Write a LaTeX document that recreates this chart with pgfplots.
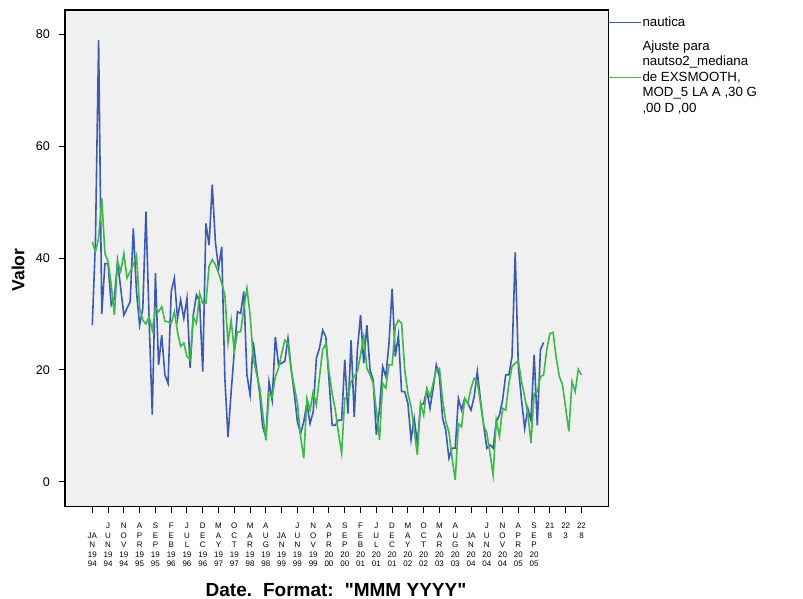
\documentclass[border=0pt]{standalone}
\usepackage{pgfplots}
\pgfplotsset{compat=1.18}
\usepackage{fontspec}
\setmainfont{Liberation Sans}
\newfontfamily\qf{Liberation Sans}
\definecolor{bgc}{HTML}{F0F0F0}
\definecolor{bl}{HTML}{3C5AB4}
\definecolor{gr}{HTML}{3DB94A}
\newcommand{\tl}[5]{\begin{tabular}{@{}c@{}}#1\\#2\\#3\\#4\\#5\end{tabular}}
\begin{document}
\begin{tikzpicture}
\useasboundingbox (0,0) rectangle (803bp,599bp);
\begin{axis}[
  at={(65bp,92.3bp)}, anchor=south west,
  scale only axis, width=543.3bp, height=496.7bp,
  xmin=-8.65, xmax=163.5, ymin=-4.47, ymax=84.35,
  axis background/.style={fill=bgc},
  axis line style={black, line width=1.3bp},
  tick align=outside, major tick length=6bp,
  tick style={black, line width=1bp},
  xtick pos=left, ytick pos=left,
  /pgf/number format/assume math mode=true,
  ytick={0,20,40,60,80},
  yticklabel style={font=\fontsize{12.6bp}{14bp}\selectfont, inner sep=0pt, xshift=-9bp},
  xtick={0,5,...,155},
  xticklabel style={font=\fontsize{8bp}{9.5bp}\selectfont, anchor=north, inner sep=0pt, yshift=-9bp},
  xticklabels={
    {\tl{}{JA}{N}{19}{94}},{\tl{J}{U}{N}{19}{94}},{\tl{N}{O}{V}{19}{94}},{\tl{A}{P}{R}{19}{95}},
    {\tl{S}{E}{P}{19}{95}},{\tl{F}{E}{B}{19}{96}},{\tl{J}{U}{L}{19}{96}},{\tl{D}{E}{C}{19}{96}},
    {\tl{M}{A}{Y}{19}{97}},{\tl{O}{C}{T}{19}{97}},{\tl{M}{A}{R}{19}{98}},{\tl{A}{U}{G}{19}{98}},
    {\tl{}{JA}{N}{19}{99}},{\tl{J}{U}{N}{19}{99}},{\tl{N}{O}{V}{19}{99}},{\tl{A}{P}{R}{20}{00}},
    {\tl{S}{E}{P}{20}{00}},{\tl{F}{E}{B}{20}{01}},{\tl{J}{U}{L}{20}{01}},{\tl{D}{E}{C}{20}{01}},
    {\tl{M}{A}{Y}{20}{02}},{\tl{O}{C}{T}{20}{02}},{\tl{M}{A}{R}{20}{03}},{\tl{A}{U}{G}{20}{03}},
    {\tl{}{JA}{N}{20}{04}},{\tl{J}{U}{N}{20}{04}},{\tl{N}{O}{V}{20}{04}},{\tl{A}{P}{R}{20}{05}},
    {\tl{S}{E}{P}{20}{05}},{\tl{21}{8}{}{}{}},{\tl{22}{3}{}{}{}},{\tl{22}{8}{}{}{}}},
  every axis x label/.style={at={(rel axis cs:0.4988,-0.1677)}, anchor=center,
    font=\qf\fontsize{19bp}{21bp}\selectfont\bfseries},
  every axis y label/.style={at={(rel axis cs:-0.0865,0.4765)}, anchor=center, rotate=90,
    font=\fontsize{17.5bp}{20bp}\selectfont\bfseries},
  xlabel={Date.\hspace{11bp}Format:\hspace{11bp}"MMM YYYY"},
  ylabel={Valor},
  legend style={at={(rel axis cs:1,1)}, anchor=north west, yshift=-7bp, draw=none, fill=none,
    inner sep=0pt, outer sep=0pt, font=\fontsize{13.3bp}{15.5bp}\selectfont,
    cells={anchor=west, align=left}, row sep=12.5bp, column sep=1bp,
    nodes={inner sep=0pt}},
  legend image code/.code={\draw[#1, line width=1.2bp] (0bp,0bp) -- (32bp,0bp);},
]
\addplot[color=bl, line width=1.6bp] coordinates {
(0,28.0)(1,43)(2,79)(3,30)(4,39)(5,39)(6,31.6)(7,32.8)(8,39.4)(9,34.6)
(10,29.8)(11,31.0)(12,32.2)(13,45.3)(14,34)(15,28.0)(16,31.0)(17,48.3)(18,29)(19,12)
(20,37.3)(21,20.9)(22,26.2)(23,19.1)(24,17.6)(25,34.0)(26,36.4)(27,29.2)(28,32.5)(29,29.2)
(30,32.8)(31,20.3)(32,29.8)(33,33.4)(34,32.2)(35,19.7)(36,46.2)(37,42.3)(38,53.1)(39,42.9)
(40,38.2)(41,42.0)(42,18.5)(43,8)(44,16.1)(45,23.3)(46,30.4)(47,30.1)(48,34.0)(49,19.1)
(50,15.5)(51,25.0)(52,20.3)(53,16)(54,9.8)(55,8.0)(56,17.9)(57,14.6)(58,25.9)(59,20.9)
(60,21.2)(61,21.5)(62,25.6)(63,20.3)(64,15.8)(65,10.7)(66,8.6)(67,10.7)(68,14.0)(69,10.4)
(70,12.5)(71,22.1)(72,23.9)(73,27.1)(74,25.9)(75,18.2)(76,10.1)(77,10.1)(78,11.0)(79,11.0)
(80,21.8)(81,12.2)(82,25.3)(83,11.6)(84,23.6)(85,29.8)(86,21.2)(87,28.0)(88,20.0)(89,18.2)
(90,8.4)(91,13)(92,20.6)(93,18.8)(94,24.7)(95,34.5)(96,22.4)(97,26.2)(98,16.1)(99,16.1)
(100,14.0)(101,7.5)(102,11.3)(103,6.8)(104,13.7)(105,14.0)(106,16.4)(107,13.1)(108,16.7)(109,20.9)
(110,18.8)(111,11.3)(112,9.2)(113,4.2)(114,6.0)(115,6.0)(116,14.9)(117,12.8)(118,14.9)(119,14.0)
(120,12.8)(121,15.2)(122,19.7)(123,14.6)(124,10.1)(125,6.0)(126,6.6)(127,6.0)(128,10.7)(129,11.9)
(130,14.6)(131,19.1)(132,19.1)(133,22.4)(134,41)(135,20.6)(136,14.6)(137,9.5)(138,13.1)(139,11.0)
(140,22.7)(141,10.1)(142,23.6)(143,24.9)
};
\addlegendentry{nautica}
\addplot[color=gr, line width=1.6bp] coordinates {
(0,42.9)(1,41.1)(2,43.5)(3,50.7)(4,40.8)(5,39.4)(6,35.2)(7,29.8)(8,39.4)(9,37.6)
(10,40.8)(11,36.4)(12,37.6)(13,38.8)(14,40.5)(15,31)(16,28.9)(17,28.2)(18,29.5)(19,27.1)
(20,31.0)(21,30.4)(22,31.3)(23,28.7)(24,28.6)(25,28.3)(26,30.4)(27,26.8)(28,24.2)(29,24.8)
(30,22.4)(31,21.8)(32,29.5)(33,28.3)(34,33.7)(35,31.9)(36,31.9)(37,38.5)(38,39.7)(39,38.8)
(40,37.3)(41,35.5)(42,33.4)(43,24.8)(44,28.9)(45,23.3)(46,26.8)(47,26.8)(48,31.0)(49,34.6)
(50,29.8)(51,22.1)(52,19.4)(53,17.0)(54,12.2)(55,7.5)(56,15.8)(57,15.2)(58,18.8)(59,20.3)
(60,22.9)(61,25.3)(62,24.7)(63,20.0)(64,17.0)(65,14.0)(66,8.1)(67,4.2)(68,14.9)(69,12.8)
(70,16.1)(71,13.7)(72,18.8)(73,23.6)(74,24.7)(75,19.7)(76,15.8)(77,12.8)(78,8.7)(79,5.1)
(80,14.9)(81,15.2)(82,17.9)(83,18.8)(84,19.7)(85,22.7)(86,25.9)(87,20.3)(88,19.1)(89,17.6)
(90,12.8)(91,7.5)(92,17.6)(93,16.7)(94,20.9)(95,20.9)(96,27.7)(97,28.9)(98,28.3)(99,20.0)
(100,15.8)(101,13.4)(102,9.2)(103,4.8)(104,14.0)(105,11.9)(106,16.7)(107,15.2)(108,17.6)(109,20.0)
(110,20.3)(111,14.6)(112,10.7)(113,8.9)(114,4.2)(115,0.3)(116,10.4)(117,9.8)(118,14.9)(119,14.0)
(120,16.7)(121,18.5)(122,17.9)(123,14.0)(124,10.1)(125,8.7)(126,5.1)(127,1.2)(128,11.0)(129,8.1)
(130,13.1)(131,12.8)(132,17.6)(133,20.6)(134,21.2)(135,21.6)(136,17.9)(137,15.2)(138,12.2)(139,6.9)
(140,15.8)(141,16.1)(142,18.8)(143,19.1)(144,23.6)(145,26.5)(146,26.7)(147,22.1)(148,18.8)(149,17.3)
(150,13.1)(151,9.0)(152,17.9)(153,16.1)(154,20.1)(155,19.1)
};
\addlegendentry{Ajuste para\\nautso2\_mediana\\de EXSMOOTH,\\MOD\_5 LA A ,30 G\\,00 D ,00}
\end{axis}
\end{tikzpicture}
\end{document}
